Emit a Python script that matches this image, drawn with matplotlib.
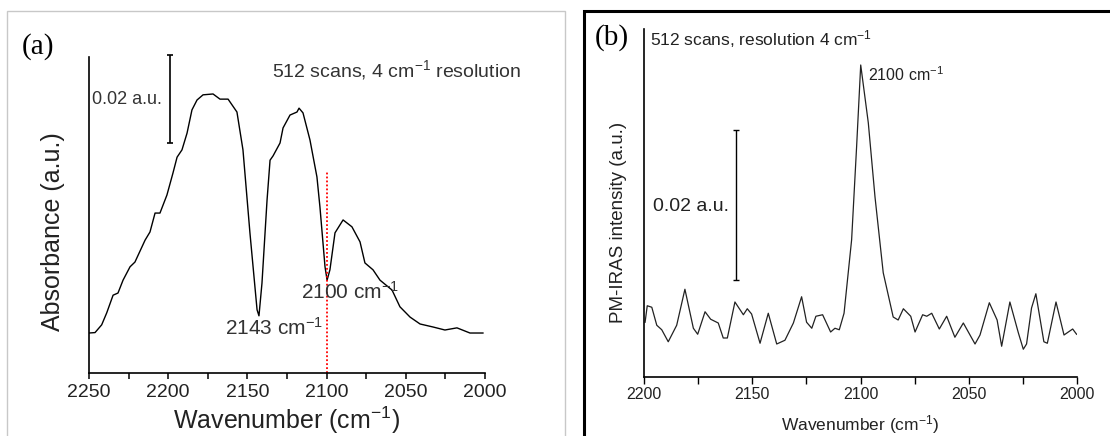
import numpy as np
import matplotlib
matplotlib.use("Agg")
import matplotlib.pyplot as plt
from matplotlib.patches import Rectangle

plt.rcParams['font.family'] = ['Liberation Sans', 'DejaVu Sans']
plt.rcParams['mathtext.fontset'] = 'custom'
plt.rcParams['mathtext.rm'] = 'Liberation Sans'
plt.rcParams['mathtext.it'] = 'Liberation Sans:italic'
plt.rcParams['mathtext.bf'] = 'Liberation Sans:bold'

# (a) IR absorbance spectrum
wn_a = [2250.0, 2246.2, 2242.0, 2238.8, 2234.8, 2231.7, 2228.5, 2224.1, 2221.0, 2214.6,
        2211.5, 2208.3, 2205.2, 2200.8, 2197.0, 2194.4, 2191.3, 2188.1, 2185.0, 2181.8,
        2178.0, 2171.7, 2167.3, 2162.2, 2156.6, 2152.8, 2148.4, 2143.9, 2142.7, 2140.8,
        2137.6, 2135.7, 2133.8, 2129.4, 2127.5, 2123.1, 2118.7, 2117.4, 2114.9, 2110.5,
        2106.1, 2104.2, 2101.0, 2099.7, 2097.9, 2094.7, 2089.6, 2084.0, 2078.9, 2075.8,
        2070.7, 2066.3, 2058.7, 2053.7, 2047.3, 2041.0, 2032.8, 2025.3, 2017.7, 2009.5,
        2001.3]
abs_a = [0.0093, 0.0094, 0.0112, 0.0140, 0.0181, 0.0186, 0.0216, 0.0247, 0.0258, 0.0309,
         0.0328, 0.0372, 0.0372, 0.0414, 0.0465, 0.0502, 0.0519, 0.0558, 0.0612, 0.0635,
         0.0647, 0.0649, 0.0637, 0.0637, 0.0607, 0.0519, 0.0326, 0.0147, 0.0133, 0.0209,
         0.0402, 0.0495, 0.0505, 0.0535, 0.0570, 0.0600, 0.0607, 0.0616, 0.0605, 0.0542,
         0.0456, 0.0386, 0.0247, 0.0216, 0.0240, 0.0326, 0.0356, 0.0340, 0.0305, 0.0256,
         0.0240, 0.0216, 0.0193, 0.0154, 0.0130, 0.0114, 0.0107, 0.0100, 0.0105, 0.0093,
         0.0093]

# (b) PM-IRAS spectrum
wn_b = [2199.5, 2198.5, 2196.4, 2194.1, 2191.8, 2188.8, 2184.9, 2181.1, 2177.2, 2175.2,
        2171.8, 2169.2, 2165.7, 2163.4, 2161.5, 2158.0, 2154.1, 2152.3, 2150.3, 2146.4,
        2142.6, 2138.7, 2134.9, 2131.0, 2127.2, 2124.9, 2122.5, 2120.6, 2117.5, 2113.8,
        2111.8, 2109.8, 2107.6, 2104.1, 2101.8, 2099.9, 2096.4, 2093.3, 2089.5, 2084.9,
        2082.6, 2080.2, 2076.8, 2074.8, 2071.3, 2069.4, 2067.1, 2063.6, 2060.2, 2056.4,
        2052.5, 2047.1, 2044.8, 2040.5, 2036.9, 2034.8, 2031.0, 2027.1, 2024.8, 2023.3,
        2021.0, 2019.0, 2015.3, 2013.7, 2009.7, 2006.0, 2002.0, 2000.2]
int_b = [0.0073, 0.0095, 0.0093, 0.0069, 0.0063, 0.0047, 0.0069, 0.0117, 0.0065, 0.0057,
         0.0087, 0.0077, 0.0072, 0.0052, 0.0052, 0.0100, 0.0083, 0.0091, 0.0084, 0.0045,
         0.0085, 0.0044, 0.0049, 0.0072, 0.0107, 0.0073, 0.0065, 0.0081, 0.0083, 0.0060,
         0.0065, 0.0063, 0.0085, 0.0183, 0.0307, 0.0416, 0.0339, 0.0240, 0.0139, 0.0080,
         0.0076, 0.0091, 0.0081, 0.0060, 0.0083, 0.0081, 0.0085, 0.0064, 0.0081, 0.0053,
         0.0072, 0.0044, 0.0056, 0.0099, 0.0076, 0.0041, 0.0100, 0.0059, 0.0037, 0.0044,
         0.0092, 0.0111, 0.0047, 0.0045, 0.0100, 0.0056, 0.0064, 0.0057]

ticks_a = [2250, 2200, 2150, 2100, 2050, 2000]
ticks_b = [2200, 2150, 2100, 2050, 2000]

W, H = 1110, 436
fig = plt.figure(figsize=(W / 100, H / 100), dpi=100)

# panel frames
fig.patches.append(Rectangle((7 / W, -0.05), (565 - 7) / W, 1.05 - 11 / H,
                             transform=fig.transFigure, fill=False,
                             edgecolor='#c8c8c8', lw=1.0))
fig.patches.append(Rectangle((584 / W, -0.05), 0.5, 1.05 - 11 / H,
                             transform=fig.transFigure, fill=False,
                             edgecolor='black', lw=2.2))

txt = '#222222'

# ---- panel (a)
ax1 = fig.add_axes([89 / W, 1 - 373 / H, (485 - 89) / W, (373 - 57) / H])
ax1.plot(wn_a, abs_a, color='black', lw=1.0)
ax1.set_xlim(2250, 2000)
ax1.set_ylim(0, 0.0735)
ax1.set_xticks(ticks_a)
ax1.set_xticks([2225, 2175, 2125, 2075, 2025], minor=True)
ax1.set_yticks([])
for s in ['top', 'right']:
    ax1.spines[s].set_visible(False)
for s in ['left', 'bottom']:
    ax1.spines[s].set_linewidth(1.2)
ax1.tick_params(axis='x', which='both', direction='out', length=4, width=1.1,
                labelsize=14, pad=4, labelcolor=txt)
ax1.set_xlabel('Wavenumber (cm$^{-1}$)', fontsize=18, color=txt, va='center')
ax1.xaxis.set_label_coords(0.5, -0.149)
ax1.set_ylabel('Absorbance (a.u.)', fontsize=18, color=txt, va='center')
ax1.yaxis.set_label_coords(-0.091, 0.446)

ax1.plot([2100, 2100], [0, 0.0468], color='red', lw=1.3, ls=(0, (1, 1.2)))
ax1.errorbar([2199], [0.06375], yerr=[0.01025], color='black', lw=1.2,
             capsize=2.5, capthick=1.2, clip_on=False)
ax1.text(2248.1, 0.0635, '0.02 a.u.', fontsize=13, color='#333333',
         ha='left', va='center')
ax1.text(2134.5, 0.0705, '512 scans, 4 cm$^{-1}$ resolution', fontsize=14,
         color='#333333', ha='left', va='center')
ax1.text(2133.2, 0.0105, '2143 cm$^{-1}$', fontsize=15, color='#333333',
         ha='center', va='center')
ax1.text(2085.2, 0.0188, '2100 cm$^{-1}$', fontsize=15, color='#333333',
         ha='center', va='center')
fig.text(38 / W, 1 - 47 / H, '(a)', fontsize=21, family='Liberation Serif',
         ha='center', va='center')

# ---- panel (b)
ax2 = fig.add_axes([644 / W, 1 - 377 / H, (1077 - 644) / W, (377 - 29) / H])
ax2.plot(wn_b, int_b, color='#222222', lw=0.9)
ax2.set_xlim(2200, 2000)
ax2.set_ylim(0, 0.0464)
ax2.set_xticks(ticks_b)
ax2.set_xticks([2175, 2125, 2075, 2025], minor=True)
ax2.set_yticks([])
for s in ['top', 'right']:
    ax2.spines[s].set_visible(False)
for s in ['left', 'bottom']:
    ax2.spines[s].set_linewidth(1.2)
ax2.tick_params(axis='x', which='both', direction='out', length=5, width=1.0,
                labelsize=11.5, pad=2.5, labelcolor=txt)
ax2.set_xlabel('Wavenumber (cm$^{-1}$)', fontsize=12.5, color=txt, va='center')
ax2.xaxis.set_label_coords(0.5, -0.138)
ax2.set_ylabel('PM-IRAS intensity (a.u.)', fontsize=13.5, color=txt, va='center')
ax2.yaxis.set_label_coords(-0.058, 0.445)

ax2.errorbar([2157.5], [0.02293], yerr=[0.01], color='black', lw=1.0,
             capsize=2.5, capthick=1.0)
ax2.text(2195.8, 0.0227, '0.02 a.u.', fontsize=14, color=txt,
         ha='left', va='center')
ax2.text(2197.2, 0.0451, '512 scans, resolution 4 cm$^{-1}$', fontsize=12.5,
         color=txt, ha='left', va='center')
ax2.text(2096.5, 0.0403, '2100 cm$^{-1}$', fontsize=11.5, color=txt,
         ha='left', va='center')
fig.text(612 / W, 1 - 38 / H, '(b)', fontsize=21, family='Liberation Serif',
         ha='center', va='center')

fig.savefig('out.png', dpi=100)
